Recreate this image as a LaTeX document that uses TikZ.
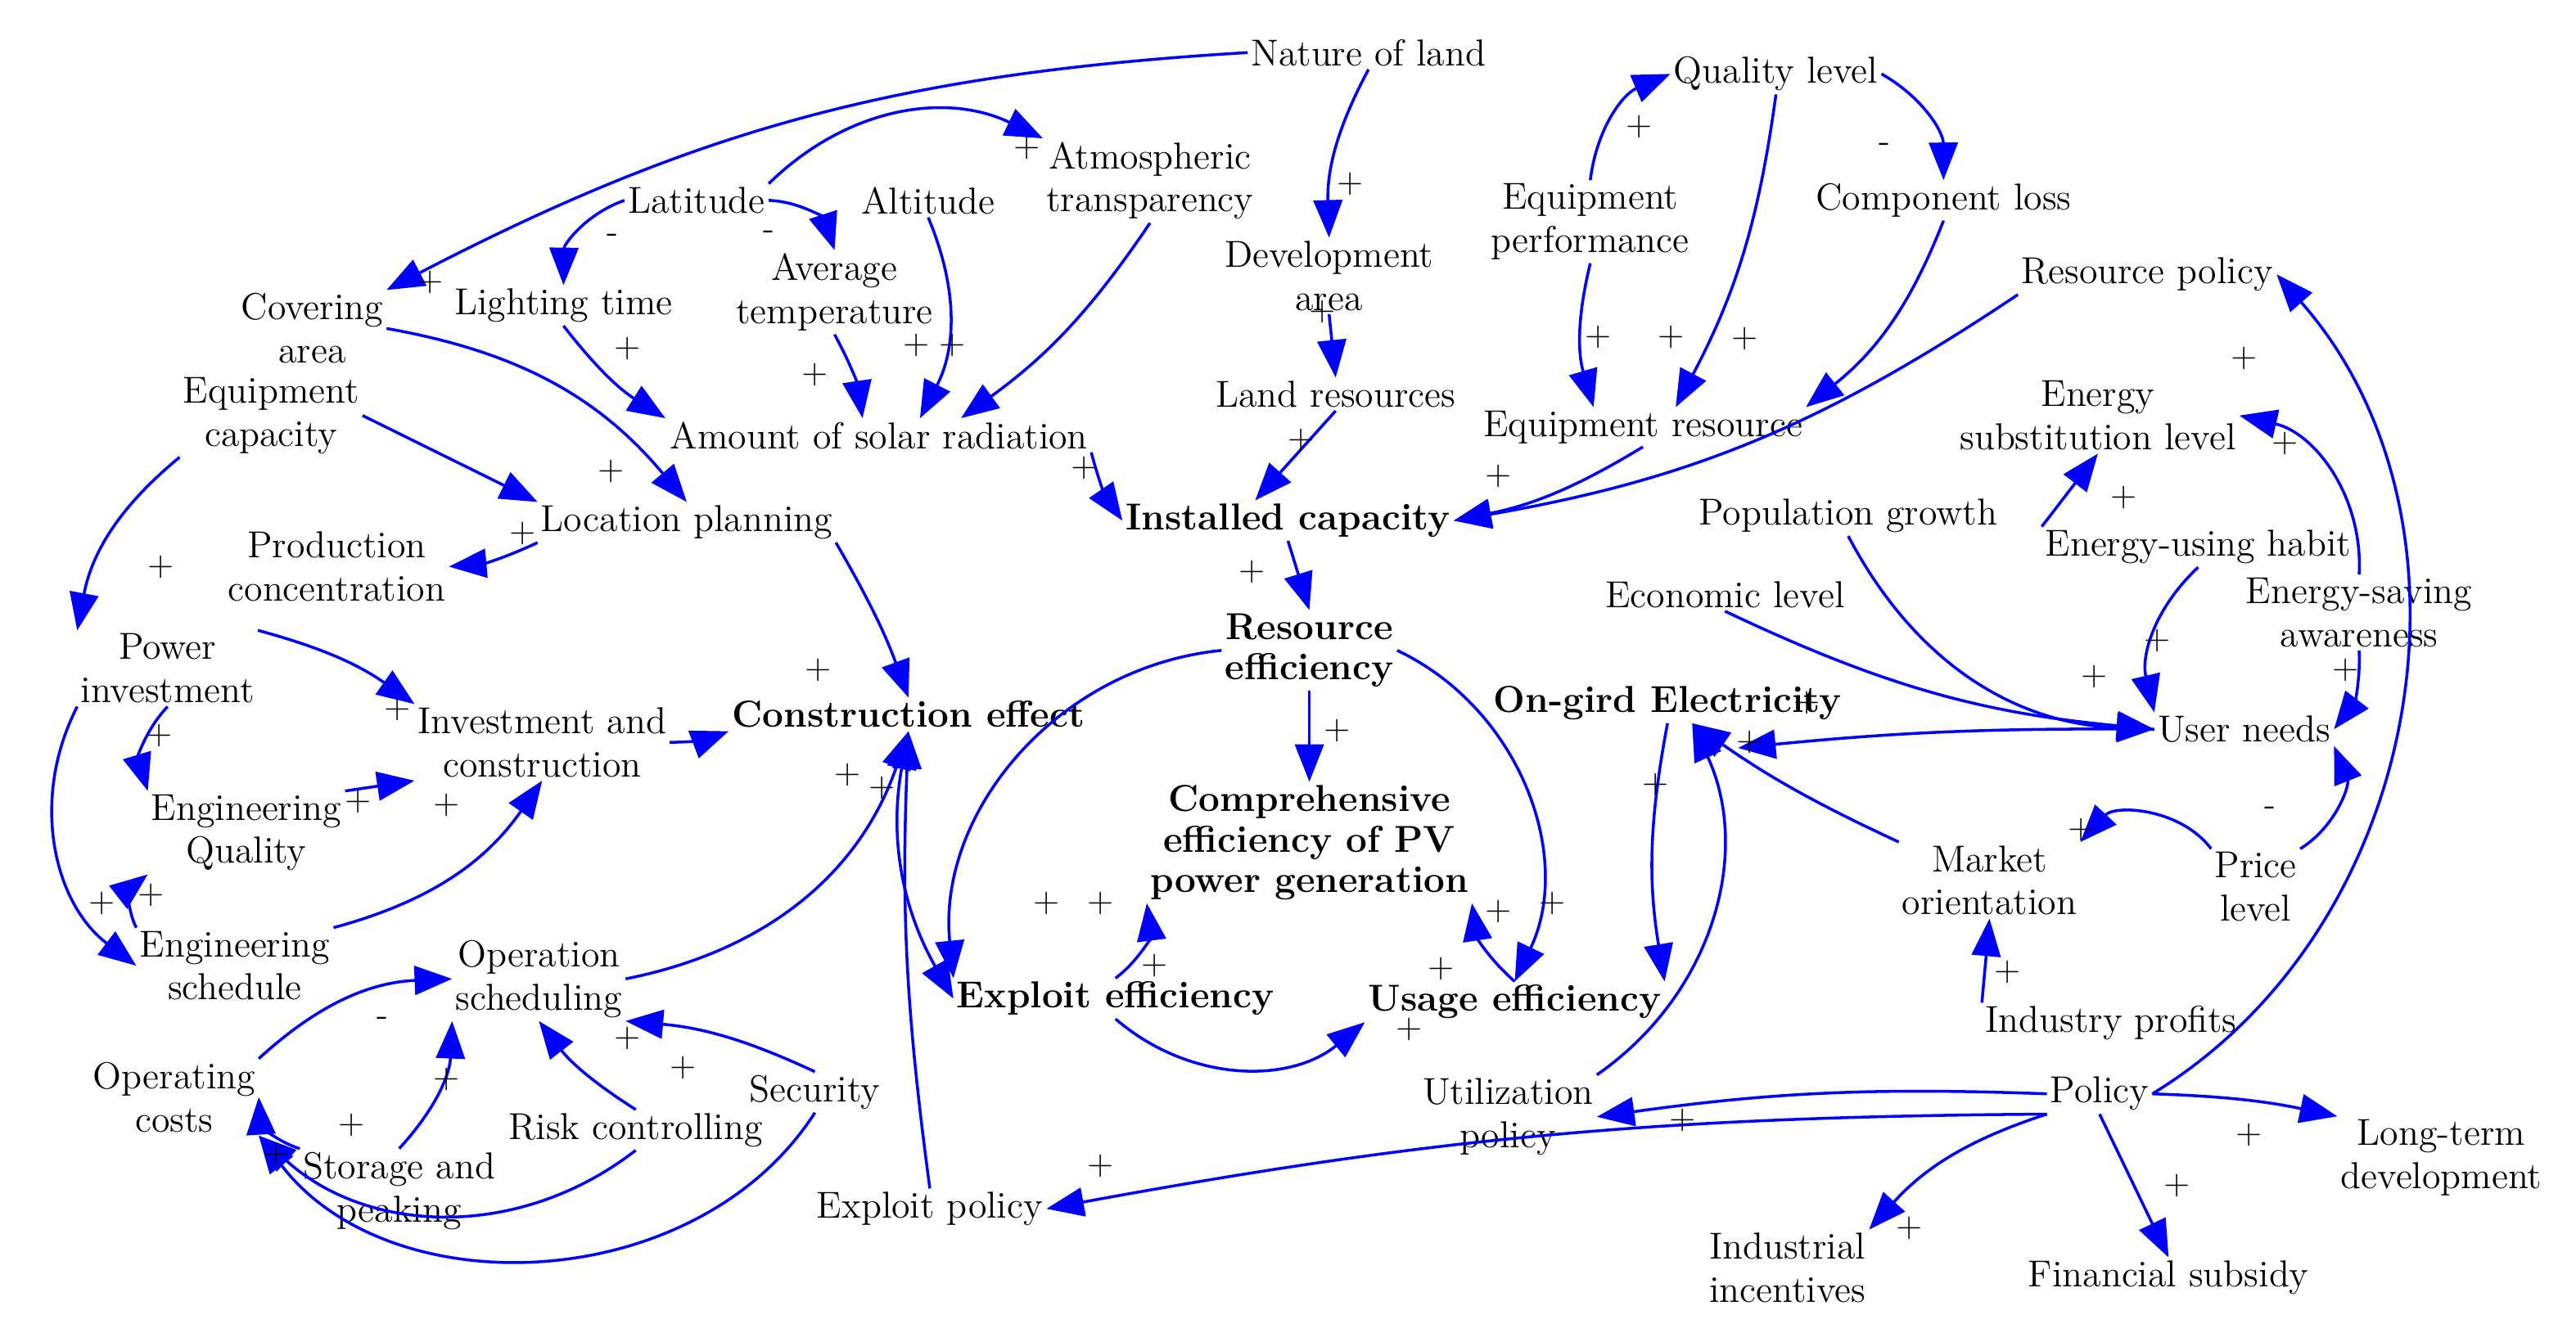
\documentclass[tikz,border=0pt]{standalone}
\usepackage{tikz}
\usetikzlibrary{arrows.meta}
\tikzset{
  var/.style={align=center,inner sep=1pt,font=\fontsize{13}{15}\selectfont},
  key/.style={var,font=\fontsize{13}{14}\selectfont\bfseries},
  sgn/.style={inner sep=0pt,font=\fontsize{12}{12}\selectfont},
  arr/.style={-{Triangle[length=13pt,width=10pt]},draw=blue,line width=1pt}
}
\begin{document}
\begin{tikzpicture}[x=0.02cm,y=-0.02cm]
\useasboundingbox (0,0) rectangle (1568,806);
% variables
\node[var] (nature) at (833,32) {Nature of land};
\node[var] (lat) at (424,122) {Latitude};
\node[var] (alt) at (565,122) {Altitude};
\node[var] (atm) at (700,110) {Atmospheric\\transparency};
\node[var] (qual) at (1081,45) {Quality level};
\node[var] (eqp) at (968,135) {Equipment\\performance};
\node[var] (comp) at (1183,122) {Component loss};
\node[var] (dev) at (809,168) {Development\\area};
\node[var] (respol) at (1307,167) {Resource policy};
\node[var] (cover) at (190,200) {Covering\\area};
\node[var] (light) at (343,186) {Lighting time};
\node[var] (avgt) at (508,178) {Average\\temperature};
\node[var] (eqcap) at (165,253) {Equipment\\capacity};
\node[var] (land) at (813,240) {Land resources};
\node[var] (solar) at (535,265) {Amount of solar radiation};
\node[var] (eqres) at (1000,260) {Equipment resource};
\node[var] (esub) at (1277,253) {Energy\\substitution level};
\node[var] (loc) at (418,318) {Location planning};
\node[key] (inst) at (784,317) {Installed capacity};
\node[var] (pop) at (1125,314) {Population growth};
\node[var] (habit) at (1338,333) {Energy-using habit};
\node[var] (prod) at (205,345) {Production\\concentration};
\node[var] (econ) at (1050,362) {Economic level};
\node[var] (esave) at (1436,373) {Energy-saving\\awareness};
\node[key] (reseff) at (797,396) {Resource\\efficiency};
\node[var] (powinv) at (102,407) {Power\\investment};
\node[var] (invc) at (330,452) {Investment and\\construction};
\node[key] (cons) at (553,435) {Construction effect};
\node[key] (ongrid) at (1015,428) {On-gird Electricity};
\node[var] (user) at (1366,444) {User needs};
\node[var] (engq) at (150,507) {Engineering\\Quality};
\node[key] (compeff) at (797,513) {Comprehensive\\efficiency of PV\\power generation};
\node[var] (market) at (1211,536) {Market\\orientation};
\node[var] (price) at (1373,540) {Price\\level};
\node[var] (engs) at (143,588) {Engineering\\schedule};
\node[var] (opsch) at (328,596) {Operation\\scheduling};
\node[key] (exeff) at (679,608) {Exploit efficiency};
\node[key] (useff) at (922,610) {Usage efficiency};
\node[var] (indprof) at (1285,623) {Industry profits};
\node[var] (opcost) at (106,668) {Operating\\costs};
\node[var] (security) at (496,665) {Security};
\node[var] (risk) at (387,688) {Risk controlling};
\node[var] (utilpol) at (918,680) {Utilization\\policy};
\node[var] (policy) at (1278,666) {Policy};
\node[var] (ltd) at (1486,705) {Long-term\\development};
\node[var] (storage) at (243,725) {Storage and\\peaking};
\node[var] (expol) at (566,736) {Exploit policy};
\node[var] (indinc) at (1088,772) {Industrial\\incentives};
\node[var] (fin) at (1320,778) {Financial subsidy};
% links
\draw[arr] (nature.west) to[bend right=12] (cover.north east);
\draw[arr] (nature.south) to[bend right=15] (dev.north);
\draw[arr] (lat.north east) to[bend left=35] (atm.north west);
\draw[arr] (lat.west) to[bend right=35] (light.north);
\draw[arr] (lat.east) to[bend left=35] (avgt.north);
\draw[arr] (alt.south) to[bend left=25] ([xshift=0.5cm]solar.north);
\draw[arr] (atm.south) to[bend left=10] ([xshift=1cm]solar.north);
\draw[arr] (avgt.south) to[bend left=10] ([xshift=-0.2cm]solar.north);
\draw[arr] (light.south) to[bend right=10] ([xshift=-2.6cm]solar.north);
\draw[arr] (cover.east) to[bend left=20] (loc.north);
\draw[arr] (eqcap.east) to (loc.north west);
\draw[arr] (eqcap.south west) to[bend right=20] (powinv.north west);
\draw[arr] (loc.south west) to[bend left=10] (prod.east);
\draw[arr] (loc.south east) to[bend left=5] (cons.north);
\draw[arr] (solar.south east) to[bend right=10] (inst.west);
\draw[arr] (dev.south) to (land.north);
\draw[arr] (land.south) to ([xshift=-0.4cm]inst.north);
\draw[arr] (qual.east) to[bend left=30] (comp.north);
\draw[arr] (eqp.north) to[bend left=30] (qual.west);
\draw[arr] (eqp.south) to[bend right=15] ([xshift=-0.6cm]eqres.north);
\draw[arr] (qual.south) to[bend left=10] ([xshift=0.4cm]eqres.north);
\draw[arr] (comp.south) to[bend left=15] (eqres.north east);
\draw[arr] (eqres.south) to[bend left=10] (inst.east);
\draw[arr] (respol.south west) to[bend left=12] (inst.east);
\draw[arr] (inst.south) to (reseff.north);
\draw[arr] (reseff.south) to (compeff.north);
\draw[arr] (reseff.west) to[bend right=45] (exeff.north west);
\draw[arr] (reseff.east) to[bend left=45] (useff.north);
\draw[arr] (powinv.north east) to[bend left=10] (invc.north west);
\draw[arr] (powinv.south west) to[bend right=40] (engs.west);
\draw[arr] (powinv.south) to[bend right=30] (engq.north west);
\draw[arr] (invc.east) to[bend right=10] (cons.south west);
\draw[arr] (engq.north east) to (invc.south west);
\draw[arr] (engs.north west) to[bend left=40] (engq.south west);
\draw[arr] (engs.north east) to[bend right=20] (invc.south);
\draw[arr] (opcost.north east) to[bend left=20] (opsch.west);
\draw[arr] (opsch.east) to[bend right=30] (cons.south);
\draw[arr] (storage.north) to[bend right=20] (opsch.south west);
\draw[arr] (storage.north west) to[bend left=35] (opcost.east);
\draw[arr] (risk.north) to[bend left=10] (opsch.south);
\draw[arr] (security.north) to[bend right=10] (opsch.south east);
\draw[arr] (risk.south) to[bend left=40] (opcost.south east);
\draw[arr] (security.south) to[bend left=55] (opcost.south east);
\draw[arr,{Triangle[length=13pt,width=10pt]}-{Triangle[length=13pt,width=10pt]}] (cons.south) to[bend right=20] (exeff.west);
\draw[arr] (expol.north) to[bend left=5] (cons.south);
\draw[arr] (exeff.south) to[bend right=40] (useff.south west);
\draw[arr] (exeff.north) to[bend right=30] (compeff.south west);
\draw[arr] (useff.north) to[bend left=20] (compeff.south east);
\draw[arr] (ongrid.south) to[bend right=10] (useff.north east);
\draw[arr] (utilpol.north east) to[bend right=40] ([xshift=0.3cm]ongrid.south);
\draw[arr] (user.west) to[bend right=3] ([xshift=-1.3cm,yshift=-0.3cm]ongrid.south east);
\draw[arr] (market.north west) to[bend left=5] ([xshift=0.3cm]ongrid.south);
\draw[arr] (pop.south) to[bend right=30] (user.west);
\draw[arr] (econ.south) to[bend right=10] (user.west);
\draw[arr] (habit.south) to[bend right=30] (user.north west);
\draw[arr] (habit.north west) to (esub.south);
\draw[arr] (esave.north) to[bend right=40] (esub.east);
\draw[arr] (esave.south) to[bend left=20] (user.east);
\draw[arr] (price.north west) to[bend right=50] (market.north east);
\draw[arr] (price.north east) to[bend right=40] (user.south east);
\draw[arr] (indprof.north west) to (market.south);
\draw[arr] (policy.east) to[bend right=50] (respol.east);
\draw[arr] (policy.west) to[bend right=5] (utilpol.east);
\draw[arr] (policy.east) to[bend left=5] (ltd.north west);
\draw[arr] (policy.south west) to[bend right=5] (expol.east);
\draw[arr] (policy.south west) to[bend right=15] (indinc.north east);
\draw[arr] (policy.south) to (fin.north);
% polarities
\foreach \x/\y/\s [count=\i] in {
  822/112/+, 625/90/+, 373/145/-, 468/143/-, 580/210/+, 558/210/+, 496/228/+,
  382/212/+, 262/172/+, 372/287/+, 98/345/+, 318/325/+, 498/408/+, 660/285/+,
  805/190/+, 792/268/+, 1147/90/-, 998/77/+, 973/205/+, 1017/205/+, 1062/206/+,
  912/290/+, 762/348/+, 814/445/+, 637/550/+, 945/550/+, 242/432/+, 62/550/+,
  97/448/+, 516/472/+, 218/488/+, 92/545/+, 272/490/+, 537/480/+, 272/657/+,
  233/622/-, 214/685/+, 382/632/+, 416/650/+, 168/703/+, 703/588/+, 670/550/+,
  858/627/+, 877/590/+, 912/555/+, 1008/478/+, 1065/452/+, 1313/390/+,
  1293/303/+, 1391/270/+, 1428/408/+, 1267/505/+, 1382/494/-, 1222/592/+,
  1366/218/+, 1024/682/+, 1369/691/+, 670/710/+, 1162/748/+, 1325/722/+,
  1100/428/+, 1275/412/+} {
  \node[sgn] (s\i) at (\x,\y) {\s};
}
\end{tikzpicture}
\end{document}
